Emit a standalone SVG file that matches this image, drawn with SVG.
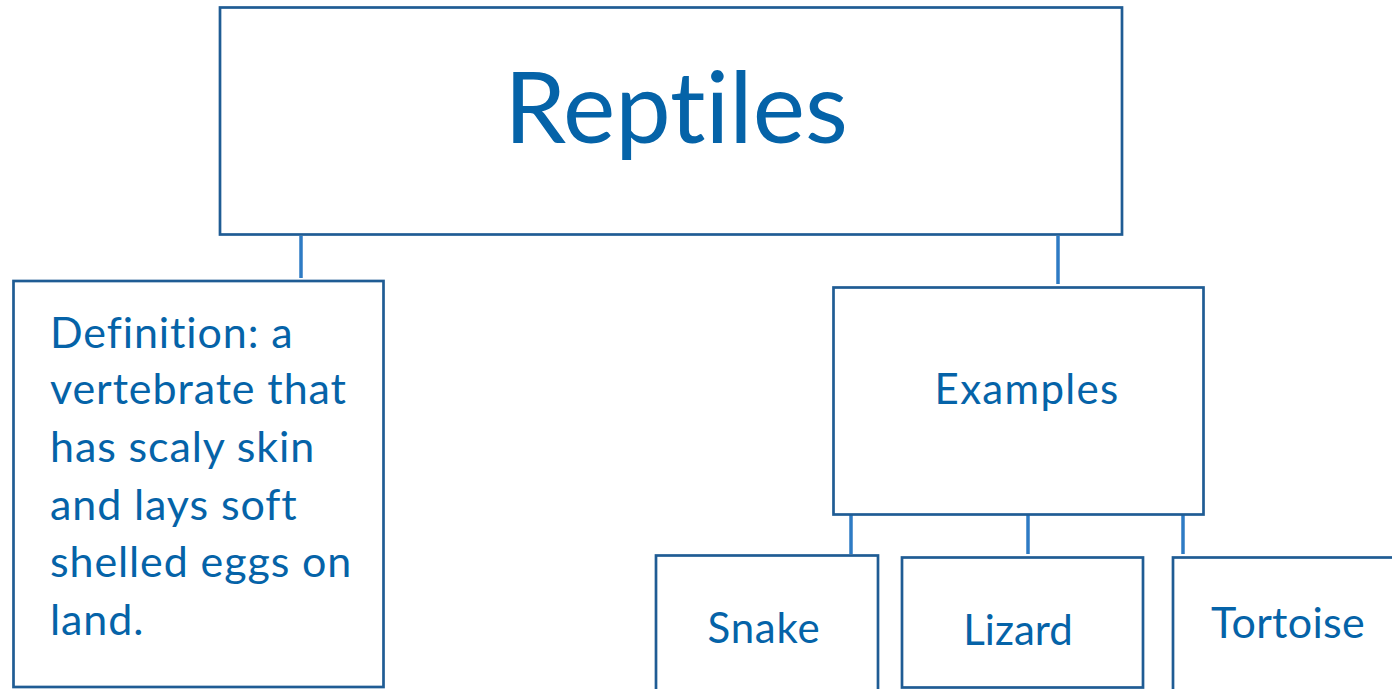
<svg xmlns="http://www.w3.org/2000/svg" width="1392" height="689" viewBox="0 0 1392 689">
<style>
.box{fill:#fff;stroke:#1F5C94;stroke-width:2.7}
.conn{stroke:#2E7BC4;stroke-width:3.5;fill:none}
.t{font-family:Lato,"Open Sans",sans-serif;fill:#0563A8;font-variant-ligatures:none;font-feature-settings:"liga" 0}
</style>
<rect width="1392" height="689" fill="#fff"/>
<g id="connectors">
<line class="conn" x1="301" y1="236" x2="301" y2="278"/>
<line class="conn" x1="1058" y1="236" x2="1058" y2="284"/>
<line class="conn" x1="851" y1="515" x2="851" y2="554"/>
<line class="conn" x1="1028" y1="515" x2="1028" y2="554"/>
<line class="conn" x1="1183" y1="515" x2="1183" y2="554"/>
</g>
<g id="reptiles">
<rect class="box" x="220" y="7.5" width="902" height="227"/>
<text class="t" x="676" y="143" font-size="99" text-anchor="middle">Reptiles</text>
</g>
<g id="definition">
<rect class="box" x="13.5" y="281" width="370" height="406"/>
<text class="t" font-size="43" letter-spacing="0.9">
<tspan x="50" y="348">Definition: a</tspan>
<tspan x="50" y="404">vertebrate that</tspan>
<tspan x="50" y="462">has scaly skin</tspan>
<tspan x="50" y="520">and lays soft</tspan>
<tspan x="50" y="577">shelled eggs on</tspan>
<tspan x="50" y="635">land.</tspan>
</text>
</g>
<g id="examples">
<rect class="box" x="833.5" y="287.5" width="370" height="227"/>
<text class="t" x="1027" y="404" font-size="42" letter-spacing="1.3" text-anchor="middle">Examples</text>
</g>
<g id="snake">
<rect class="box" x="656" y="555.5" width="222" height="140"/>
<text class="t" x="764" y="643" font-size="42" letter-spacing="0.8" text-anchor="middle">Snake</text>
</g>
<g id="lizard">
<rect class="box" x="902" y="557.5" width="241" height="130"/>
<text class="t" x="1018" y="645" font-size="42" text-anchor="middle">Lizard</text>
</g>
<g id="tortoise">
<rect class="box" x="1173" y="557.5" width="240" height="140"/>
<text class="t" x="1288" y="638" font-size="43" letter-spacing="0.3" text-anchor="middle">Tortoise</text>
</g>
</svg>
